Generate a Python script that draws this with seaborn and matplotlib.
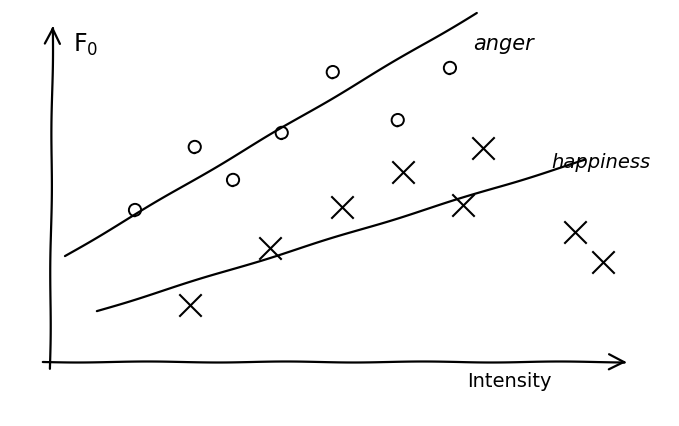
import numpy as np
import matplotlib
matplotlib.use('Agg')
import matplotlib.pyplot as plt
import seaborn as sns
import pandas as pd

# Values (arbitrary units: intensity vs F0)
anger_intensity = [1.52, 2.55, 3.21, 4.05, 4.93, 6.05, 6.95]
anger_f0 = [4.75, 6.72, 5.69, 7.16, 9.06, 7.56, 9.19]

happy_intensity = [2.47, 3.84, 5.09, 6.14, 7.17, 7.52, 9.10, 9.59]
happy_f0 = [1.78, 3.56, 4.84, 5.94, 4.91, 6.69, 4.06, 3.13]

# hand-drawn trend lines (end points)
anger_line_x = [0.31, 7.41]
anger_line_y = [3.31, 10.91]
happy_line_x = [0.86, 9.28]
happy_line_y = [1.59, 6.31]

emotions = ['anger', 'happiness']

sns.set_theme(style='white')
plt.rcParams['font.family'] = ['DejaVu Sans']
plt.rcParams['text.color'] = 'black'
plt.rcParams['path.sketch'] = (0.5, 140, 1.2)

pts = pd.DataFrame({
    'intensity': anger_intensity + happy_intensity,
    'F0': anger_f0 + happy_f0,
    'emotion': [emotions[0]] * len(anger_intensity) + [emotions[1]] * len(happy_intensity),
})
lines = pd.DataFrame({
    'intensity': anger_line_x + happy_line_x,
    'F0': anger_line_y + happy_line_y,
    'emotion': [emotions[0]] * 2 + [emotions[1]] * 2,
})

fig = plt.figure(figsize=(6.79, 4.26), dpi=100)
ax = fig.add_axes([0, 0, 1, 1])

sns.lineplot(data=lines, x='intensity', y='F0', units='emotion', estimator=None,
             color='black', linewidth=1.6, ax=ax, legend=False)

anger = pts[pts['emotion'] == 'anger']
happy = pts[pts['emotion'] == 'happiness']
sns.scatterplot(data=anger, x='intensity', y='F0', marker='o', s=70,
                facecolor='none', edgecolor='black', linewidth=1.4, ax=ax, legend=False)
sns.scatterplot(data=happy, x='intensity', y='F0', marker='x', s=260,
                color='black', linewidth=1.5, ax=ax, legend=False)

# axes drawn as hand arrows
ax.annotate('', xy=(10.05, 0.0), xytext=(-0.12, 0.0),
            arrowprops=dict(arrowstyle='->', color='black', lw=1.6, mutation_scale=28))
ax.annotate('', xy=(0.1, 10.6), xytext=(0.05, -0.3),
            arrowprops=dict(arrowstyle='->', color='black', lw=1.6, mutation_scale=28))

ax.text(0.45, 9.9, 'F$_0$', fontsize=17, ha='left', va='center')
ax.text(7.25, -0.6, 'Intensity', fontsize=14, ha='left', va='center')
ax.text(7.35, 9.95, 'anger', fontsize=15, ha='left', va='center', style='italic')
ax.text(8.7, 6.25, 'happiness', fontsize=14, ha='left', va='center', style='italic')

ax.set_xlim(-0.81, 10.897)
ax.set_ylim(-2.0, 11.3125)
ax.set_axis_off()

fig.savefig('out.png', dpi=100)
